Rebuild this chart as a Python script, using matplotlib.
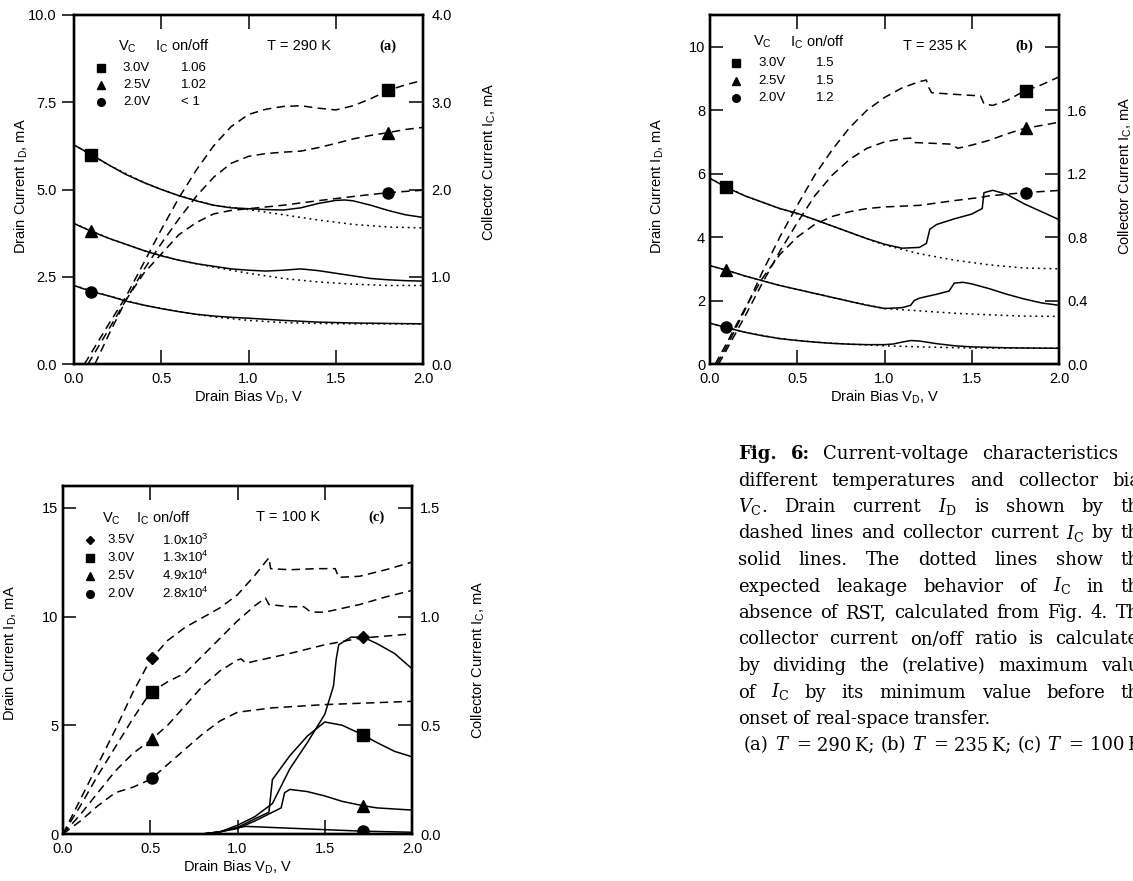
import numpy as np
import matplotlib
matplotlib.use('Agg')
import matplotlib.pyplot as plt
from matplotlib.transforms import IdentityTransform

plt.rcParams['font.family'] = 'Liberation Sans'
plt.rcParams['mathtext.fontset'] = 'custom'
plt.rcParams['mathtext.rm'] = 'Liberation Sans'
plt.rcParams['mathtext.it'] = 'Liberation Sans:italic'
plt.rcParams['mathtext.bf'] = 'Liberation Sans:bold'

# ---------------- panel (a), T = 290 K ----------------
a_id30_x = [0.06, 0.2, 0.3, 0.4, 0.5, 0.6, 0.7, 0.8, 0.9, 1.0, 1.1, 1.2, 1.3, 1.4, 1.5, 1.6, 1.7, 1.8, 1.9, 2.0]
a_id30 = [0, 1.15, 1.95, 2.9, 3.85, 4.75, 5.55, 6.25, 6.8, 7.15, 7.3, 7.38, 7.4, 7.33, 7.28, 7.4, 7.6, 7.84, 8.0, 8.13]
a_id25_x = [0.08, 0.2, 0.3, 0.4, 0.5, 0.6, 0.7, 0.8, 0.9, 1.0, 1.1, 1.2, 1.3, 1.4, 1.5, 1.6, 1.7, 1.8, 1.9, 2.0]
a_id25 = [0, 1.0, 1.85, 2.7, 3.45, 4.15, 4.8, 5.35, 5.75, 5.95, 6.03, 6.07, 6.1, 6.2, 6.32, 6.45, 6.55, 6.63, 6.72, 6.78]
a_id20_x = [0.12, 0.2, 0.3, 0.4, 0.5, 0.6, 0.7, 0.8, 0.9, 1.0, 1.2, 1.4, 1.6, 1.8, 2.0]
a_id20 = [0, 0.85, 1.85, 2.6, 3.15, 3.7, 4.05, 4.3, 4.4, 4.45, 4.55, 4.68, 4.8, 4.91, 4.98]

a_ic30_x = [0, 0.1, 0.2, 0.3, 0.4, 0.5, 0.6, 0.7, 0.8, 0.9, 1.0, 1.1, 1.2, 1.3, 1.4, 1.5, 1.55, 1.6, 1.7, 1.8, 1.9, 2.0]
a_ic30 = [2.51, 2.40, 2.28, 2.17, 2.08, 2.00, 1.93, 1.87, 1.82, 1.79, 1.78, 1.77, 1.765, 1.79, 1.84, 1.875, 1.88, 1.87, 1.82, 1.76, 1.71, 1.68]
a_ic25_x = [0, 0.1, 0.2, 0.3, 0.4, 0.5, 0.6, 0.7, 0.8, 0.9, 1.0, 1.1, 1.2, 1.3, 1.4, 1.5, 1.6, 1.7, 1.8, 1.9, 2.0]
a_ic25 = [1.61, 1.52, 1.44, 1.37, 1.30, 1.24, 1.19, 1.15, 1.12, 1.09, 1.075, 1.065, 1.075, 1.09, 1.07, 1.04, 1.01, 0.98, 0.965, 0.955, 0.95]
a_ic20_x = [0, 0.1, 0.2, 0.3, 0.4, 0.5, 0.6, 0.7, 0.8, 0.9, 1.0, 1.2, 1.4, 1.6, 1.8, 2.0]
a_ic20 = [0.90, 0.83, 0.78, 0.72, 0.675, 0.635, 0.60, 0.57, 0.55, 0.535, 0.525, 0.50, 0.48, 0.47, 0.465, 0.46]

a_lk_x = [0, 0.2, 0.4, 0.6, 0.8, 1.0, 1.2, 1.4, 1.6, 1.8, 2.0]
a_lk30 = [2.51, 2.28, 2.08, 1.93, 1.82, 1.77, 1.71, 1.65, 1.60, 1.57, 1.56]
a_lk25 = [1.61, 1.44, 1.30, 1.19, 1.11, 1.04, 0.98, 0.94, 0.915, 0.90, 0.90]
a_lk20 = [0.90, 0.78, 0.675, 0.60, 0.54, 0.50, 0.475, 0.465, 0.46, 0.46, 0.46]

a_vc = ['3.0V', '2.5V', '2.0V']
a_ratio = ['1.06', '1.02', '< 1']

# ---------------- panel (b), T = 235 K ----------------
b_id30_x = [0.04, 0.1, 0.2, 0.3, 0.4, 0.5, 0.6, 0.7, 0.8, 0.9, 1.0, 1.1, 1.2, 1.24, 1.25, 1.27, 1.4, 1.55, 1.57, 1.62, 1.7, 1.8, 1.9, 2.0]
b_id30 = [0, 0.6, 1.7, 2.9, 4.0, 5.0, 5.95, 6.75, 7.45, 8.0, 8.4, 8.7, 8.9, 8.95, 8.75, 8.55, 8.5, 8.45, 8.2, 8.15, 8.3, 8.6, 8.8, 9.05]
b_id25_x = [0.05, 0.1, 0.2, 0.3, 0.4, 0.5, 0.6, 0.7, 0.8, 0.9, 1.0, 1.1, 1.15, 1.17, 1.3, 1.38, 1.42, 1.5, 1.6, 1.7, 1.8, 1.9, 2.0]
b_id25 = [0, 0.5, 1.5, 2.55, 3.55, 4.45, 5.3, 5.95, 6.45, 6.8, 7.0, 7.1, 7.12, 6.98, 6.95, 6.93, 6.8, 6.9, 7.05, 7.25, 7.42, 7.52, 7.62]
b_id20_x = [0.03, 0.1, 0.2, 0.3, 0.4, 0.5, 0.6, 0.7, 0.8, 0.9, 1.0, 1.2, 1.4, 1.55, 1.6, 1.8, 2.0]
b_id20 = [0, 0.7, 1.75, 2.7, 3.45, 4.0, 4.4, 4.65, 4.8, 4.9, 4.95, 5.0, 5.15, 5.25, 5.3, 5.4, 5.47]

b_ic30_x = [0, 0.1, 0.2, 0.3, 0.4, 0.5, 0.6, 0.7, 0.8, 0.9, 1.0, 1.1, 1.2, 1.24, 1.26, 1.3, 1.4, 1.5, 1.56, 1.57, 1.62, 1.7, 1.8, 1.9, 2.0]
b_ic30 = [1.17, 1.11, 1.06, 1.02, 0.98, 0.95, 0.91, 0.87, 0.83, 0.79, 0.755, 0.73, 0.735, 0.76, 0.85, 0.88, 0.915, 0.945, 0.98, 1.08, 1.095, 1.07, 1.01, 0.96, 0.91]
b_ic25_x = [0, 0.1, 0.2, 0.3, 0.4, 0.5, 0.6, 0.7, 0.8, 0.9, 1.0, 1.1, 1.15, 1.17, 1.2, 1.3, 1.37, 1.4, 1.45, 1.5, 1.6, 1.7, 1.8, 1.9, 2.0]
b_ic25 = [0.62, 0.59, 0.555, 0.525, 0.495, 0.47, 0.445, 0.42, 0.395, 0.37, 0.35, 0.355, 0.37, 0.40, 0.415, 0.44, 0.46, 0.51, 0.515, 0.505, 0.475, 0.44, 0.41, 0.385, 0.37]
b_ic20_x = [0, 0.1, 0.2, 0.3, 0.4, 0.5, 0.6, 0.7, 0.8, 0.9, 1.0, 1.05, 1.1, 1.15, 1.2, 1.3, 1.4, 1.5, 1.7, 2.0]
b_ic20 = [0.257, 0.228, 0.20, 0.178, 0.16, 0.148, 0.138, 0.13, 0.125, 0.122, 0.122, 0.126, 0.138, 0.148, 0.145, 0.128, 0.115, 0.108, 0.102, 0.099]

b_lk_x = [0, 0.2, 0.4, 0.6, 0.8, 1.0, 1.2, 1.4, 1.6, 1.8, 2.0]
b_lk30 = [1.17, 1.06, 0.98, 0.91, 0.83, 0.75, 0.695, 0.655, 0.625, 0.605, 0.60]
b_lk25 = [0.62, 0.555, 0.495, 0.445, 0.395, 0.35, 0.335, 0.32, 0.31, 0.302, 0.30]
b_lk20 = [0.257, 0.20, 0.16, 0.138, 0.125, 0.115, 0.108, 0.103, 0.10, 0.10, 0.10]

b_vc = ['3.0V', '2.5V', '2.0V']
b_ratio = ['1.5', '1.5', '1.2']

# ---------------- panel (c), T = 100 K ----------------
c_id35_x = [0, 0.1, 0.2, 0.3, 0.4, 0.5, 0.6, 0.7, 0.8, 0.9, 1.0, 1.1, 1.18, 1.19, 1.3, 1.45, 1.56, 1.58, 1.7, 1.85, 2.0]
c_id35 = [0, 1.6, 3.2, 4.8, 6.5, 8.0, 8.9, 9.5, 9.95, 10.4, 11.0, 11.9, 12.7, 12.2, 12.15, 12.2, 12.2, 11.8, 11.85, 12.15, 12.5]
c_id30_x = [0, 0.1, 0.2, 0.3, 0.4, 0.5, 0.6, 0.7, 0.8, 0.9, 1.0, 1.1, 1.16, 1.18, 1.3, 1.38, 1.42, 1.5, 1.7, 1.85, 2.0]
c_id30 = [0, 1.3, 2.7, 4.0, 5.3, 6.5, 7.0, 7.4, 8.2, 9.0, 9.8, 10.5, 10.85, 10.55, 10.45, 10.45, 10.2, 10.2, 10.55, 10.9, 11.2]
c_id25_x = [0, 0.1, 0.2, 0.3, 0.4, 0.5, 0.6, 0.7, 0.8, 0.9, 1.0, 1.02, 1.05, 1.1, 1.3, 1.5, 1.7, 2.0]
c_id25 = [0, 0.9, 1.9, 2.9, 3.7, 4.3, 5.0, 5.9, 6.8, 7.5, 8.0, 8.05, 7.85, 7.95, 8.3, 8.7, 9.0, 9.2]
c_id20_x = [0, 0.1, 0.2, 0.3, 0.4, 0.5, 0.6, 0.7, 0.8, 0.9, 1.0, 1.2, 1.5, 2.0]
c_id20 = [0, 0.6, 1.3, 1.9, 2.15, 2.5, 3.2, 3.9, 4.6, 5.2, 5.6, 5.8, 5.95, 6.1]

c_ic35_x = [0, 0.8, 0.9, 1.0, 1.1, 1.2, 1.3, 1.4, 1.5, 1.55, 1.565, 1.58, 1.65, 1.72, 1.8, 1.9, 2.0]
c_ic35 = [0, 0, 0.01, 0.04, 0.08, 0.14, 0.30, 0.42, 0.55, 0.68, 0.80, 0.87, 0.905, 0.905, 0.875, 0.83, 0.76]
c_ic30_x = [0, 0.8, 0.9, 1.0, 1.1, 1.18, 1.2, 1.3, 1.4, 1.5, 1.6, 1.72, 1.8, 1.9, 2.0]
c_ic30 = [0, 0, 0.01, 0.03, 0.07, 0.10, 0.25, 0.36, 0.45, 0.515, 0.50, 0.455, 0.42, 0.38, 0.355]
c_ic25_x = [0, 0.8, 0.9, 1.0, 1.1, 1.2, 1.25, 1.27, 1.3, 1.4, 1.5, 1.6, 1.72, 1.8, 2.0]
c_ic25 = [0, 0, 0.01, 0.025, 0.06, 0.1, 0.12, 0.19, 0.205, 0.195, 0.175, 0.15, 0.13, 0.12, 0.11]
c_ic20_x = [0, 0.8, 0.9, 1.0, 1.05, 1.2, 1.5, 1.72, 2.0]
c_ic20 = [0, 0, 0.01, 0.03, 0.035, 0.03, 0.02, 0.013, 0.008]

c_vc = ['3.5V', '3.0V', '2.5V', '2.0V']
c_ratio = ['1.0x10$^3$', '1.3x10$^4$', '4.9x10$^4$', '2.8x10$^4$']

xticks = [0, 0.5, 1.0, 1.5, 2.0]

W, H = 1133, 881
fig = plt.figure(figsize=(W / 100, H / 100), dpi=100)
fig.patch.set_facecolor('white')

DASH = (0, (5.5, 3.5))
DOT = (0, (1.2, 2.6))


def rect(x0, y0, x1, y1):
    return [x0 / W, 1 - y1 / H, (x1 - x0) / W, (y1 - y0) / H]


def setup(r, ylim, yticks, yfmt, rylim, ryticks, left_dir, tag, temp, ylab_y, rlab_y):
    ax = fig.add_axes(r)
    ax2 = ax.twinx()
    ax.set_xlim(0, 2)
    ax.set_ylim(*ylim)
    ax2.set_ylim(*rylim)
    ax.set_xticks(xticks)
    ax.set_xticklabels(['%.1f' % v for v in xticks])
    ax.set_yticks(yticks)
    ax.set_yticklabels([yfmt % v for v in yticks])
    ax2.set_yticks(ryticks)
    ax2.set_yticklabels(['%.1f' % v for v in ryticks])
    ax.tick_params(axis='x', top=True, direction='in', length=10, width=1.1,
                   labelsize=10.5, pad=6)
    ax.tick_params(axis='y', direction=left_dir, length=9, width=1.1, labelsize=10.5)
    ax2.tick_params(axis='y', direction='in', length=10, width=1.1, labelsize=10.5, pad=6)
    for a in (ax, ax2):
        for s in a.spines.values():
            s.set_linewidth(1.7)
    ax.set_xlabel('Drain Bias V$_\\mathrm{D}$, V', fontsize=10.5)
    ax.set_ylabel('Drain Current I$_\\mathrm{D}$, mA', fontsize=10.5)
    ax2.set_ylabel('Collector Current I$_\\mathrm{C}$, mA', fontsize=10.5)
    ax.xaxis.set_label_coords(0.5, -0.07)
    ax.yaxis.set_label_coords(-0.125, ylab_y)
    ax2.yaxis.set_label_coords(1.165, rlab_y)
    ax.text(0.553, 0.91, 'T = %d K' % temp, transform=ax.transAxes, fontsize=10.5, va='center')
    ax.text(0.874, 0.91, '(%s)' % tag, transform=ax.transAxes, fontsize=10.5, va='center',
            family='Liberation Serif', weight='bold')
    return ax, ax2


def legend(ax, markers, vcs, ratios, ys, xm, xv, xr, yh):
    ax.text(xv - 0.015, yh, 'V$_\\mathrm{C}$', transform=ax.transAxes, fontsize=10.5, va='center')
    ax.text(xr - 0.075, yh, 'I$_\\mathrm{C}$ on/off', transform=ax.transAxes, fontsize=10.5, va='center')
    for m, v, q, y in zip(markers, vcs, ratios, ys):
        ms = 4.5 if m == 'D' else 5.5
        ax.plot([xm], [y], m, color='black', ms=ms, transform=ax.transAxes, clip_on=False)
        ax.text(xv, y, v, transform=ax.transAxes, fontsize=9.5, va='center')
        ax.text(xr, y, q, transform=ax.transAxes, fontsize=9.5, va='center')


def curve(a, x, y, ls, marks=None, m=None, ms=8):
    a.plot(x, y, color='black', lw=1.1, ls=ls)
    if marks is not None:
        a.plot(marks, np.interp(marks, x, y), m, color='black', ms=ms, ls='none')


# panel (a)
ax, ax2 = setup(rect(74, 15, 423, 364), (0, 10), [0, 2.5, 5, 7.5, 10], '%.1f',
                (0, 4), [0, 1, 2, 3, 4], 'out', 'a', 290, 0.51, 0.58)
curve(ax, a_id30_x, a_id30, DASH, [1.8], 's')
curve(ax, a_id25_x, a_id25, DASH, [1.8], '^')
curve(ax, a_id20_x, a_id20, DASH, [1.8], 'o')
curve(ax2, a_lk_x, a_lk30, DOT)
curve(ax2, a_lk_x, a_lk25, DOT)
curve(ax2, a_lk_x, a_lk20, DOT)
curve(ax2, a_ic30_x, a_ic30, '-', [0.1], 's')
curve(ax2, a_ic25_x, a_ic25, '-', [0.1], '^')
curve(ax2, a_ic20_x, a_ic20, '-', [0.1], 'o')
legend(ax, ['s', '^', 'o'], a_vc, a_ratio, [0.848, 0.799, 0.75], 0.077, 0.14, 0.307, 0.91)

# panel (b)
ax, ax2 = setup(rect(710, 15, 1059, 364), (0, 11), [0, 2, 4, 6, 8, 10], '%d',
                (0, 2.2), [0, 0.4, 0.8, 1.2, 1.6, 2.0], 'in', 'b', 235, 0.51, 0.54)
ax2.set_yticklabels(['0.0', '0.4', '0.8', '1.2', '1.6', ''])
curve(ax, b_id30_x, b_id30, DASH, [1.81], 's')
curve(ax, b_id25_x, b_id25, DASH, [1.81], '^')
curve(ax, b_id20_x, b_id20, DASH, [1.81], 'o')
curve(ax2, b_lk_x, b_lk30, DOT)
curve(ax2, b_lk_x, b_lk25, DOT)
curve(ax2, b_lk_x, b_lk20, DOT)
curve(ax2, b_ic30_x, b_ic30, '-', [0.09], 's')
curve(ax2, b_ic25_x, b_ic25, '-', [0.09], '^')
curve(ax2, b_ic20_x, b_ic20, '-', [0.09], 'o')
legend(ax, ['s', '^', 'o'], b_vc, b_ratio, [0.863, 0.811, 0.761], 0.075, 0.139, 0.303, 0.923)

# panel (c)
ax, ax2 = setup(rect(63, 486, 412, 834), (0, 16), [0, 5, 10, 15], '%d',
                (0, 1.6), [0, 0.5, 1.0, 1.5], 'in', 'c', 100, 0.52, 0.5)
curve(ax, c_id35_x, c_id35, DASH, [0.51], 'D', 6)
curve(ax, c_id30_x, c_id30, DASH, [0.51], 's')
curve(ax, c_id25_x, c_id25, DASH, [0.51], '^')
curve(ax, c_id20_x, c_id20, DASH, [0.51], 'o')
curve(ax2, c_ic35_x, c_ic35, '-', [1.72], 'D', 6)
curve(ax2, c_ic30_x, c_ic30, '-', [1.72], 's')
curve(ax2, c_ic25_x, c_ic25, '-', [1.72], '^')
curve(ax2, c_ic20_x, c_ic20, '-', [1.72], 'o')
legend(ax, ['D', 's', '^', 'o'], c_vc, c_ratio, [0.845, 0.794, 0.742, 0.690], 0.078, 0.126, 0.285, 0.907)

# caption, justified line by line (the page is cut at the right edge)
cap_lines = [
    ['Fig.', '6:', 'Current-voltage', 'characteristics', 'at'],
    ['different', 'temperatures', 'and', 'collector', 'bias'],
    ['$V_\\mathrm{C}$.', 'Drain', 'current', '$I_\\mathrm{D}$', 'is', 'shown', 'by', 'the'],
    ['dashed', 'lines', 'and', 'collector', 'current', '$I_\\mathrm{C}$', 'by', 'the'],
    ['solid', 'lines.', 'The', 'dotted', 'lines', 'show', 'the'],
    ['expected', 'leakage', 'behavior', 'of', '$I_\\mathrm{C}$', 'in', 'the'],
    ['absence', 'of', 'RST,', 'calculated', 'from', 'Fig.', '4.', 'The'],
    ['collector', 'current', 'on/off', 'ratio', 'is', 'calculated'],
    ['by', 'dividing', 'the', '(relative)', 'maximum', 'value'],
    ['of', '$I_\\mathrm{C}$', 'by', 'its', 'minimum', 'value', 'before', 'the'],
    ['onset', 'of', 'real-space', 'transfer.'],
    ['(a)', '$T$', '=', '290\u2009K;', '(b)', '$T$', '=', '235\u2009K;', '(c)', '$T$', '=', '100\u2009K.'],
]
cap_x0, cap_x1 = 738, 1150
cap_y0, cap_dy = 459, 26.5
renderer = fig.canvas.get_renderer()
for i, words in enumerate(cap_lines):
    ybase = H - (cap_y0 + i * cap_dy)
    ts = []
    for j, w in enumerate(words):
        bold = (i == 0 and j < 2)
        ts.append(fig.text(0, ybase, w, transform=IdentityTransform(), fontsize=13,
                           family='DejaVu Serif', math_fontfamily='dejavuserif',
                           weight='bold' if bold else 'normal', va='baseline'))
    widths = [t.get_window_extent(renderer).width for t in ts]
    x = cap_x0
    if i < 10:
        gap = (cap_x1 - cap_x0 - sum(widths)) / (len(ts) - 1)
    else:
        gap = 5
    if i == 11:
        x = cap_x0 + 6
        gap = 6
    for t, w in zip(ts, widths):
        t.set_x(x)
        x += w + gap

fig.savefig('out.png', dpi=100, facecolor='white')
